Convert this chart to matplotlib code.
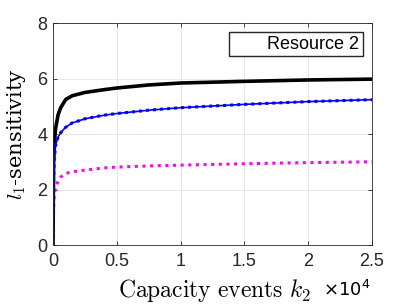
import matplotlib.pyplot as plt
import numpy as np
from matplotlib.lines import Line2D

plt.rcParams['mathtext.fontset'] = 'cm'
plt.rcParams['font.family'] = 'Liberation Sans'

# capacity events k2 and sensitivities
k2 = np.array([0, 20, 50, 100, 200, 400, 600, 1000, 1500, 2500, 4000,
               5000, 7500, 10000, 15000, 20000, 25000])
sens_black = np.array([0, 1.5, 3.0, 3.7, 4.2, 4.7, 4.95, 5.25, 5.38, 5.5, 5.6,
                       5.66, 5.77, 5.84, 5.9, 5.95, 5.98])
sens_blue = np.array([0, 1.2, 2.4, 3.1, 3.6, 3.9, 4.05, 4.25, 4.4, 4.55, 4.68,
                      4.74, 4.86, 4.95, 5.07, 5.17, 5.24])
sens_magenta = np.array([0, 0.8, 1.4, 1.8, 2.1, 2.3, 2.45, 2.58, 2.64, 2.7, 2.78,
                         2.81, 2.85, 2.88, 2.93, 2.97, 3.0])

xticks = [0, 5000, 10000, 15000, 20000, 25000]
xtick_labels = ['0', '0.5', '1', '1.5', '2', '2.5']
yticks = [0, 2, 4, 6, 8]

fig = plt.figure(figsize=(4.11, 3.08), dpi=100)
ax = fig.add_axes([0.129, 0.2045, 0.776, 0.7205])

ax.plot(k2, sens_magenta, color='magenta', lw=2.2, linestyle=(0, (1, 1.5)),
        dash_capstyle='butt')
ax.plot(k2, sens_black, color='black', lw=2.6)
ax.plot(k2, sens_blue, color='blue', lw=1.2)
ax.plot(k2, sens_blue, color='blue', lw=2.2, linestyle=(0, (1, 1.3)),
        dash_capstyle='butt')

ax.set_xlim(0, 25000)
ax.set_ylim(0, 8)
ax.set_xticks(xticks)
ax.set_xticklabels(xtick_labels)
ax.set_yticks(yticks)
ax.grid(True, color='#e6e6e6', lw=0.7)
ax.set_axisbelow(True)
ax.tick_params(direction='in', top=True, right=True, labelsize=13,
               colors='#262626', length=3, width=0.6)
ax.tick_params(axis='x', pad=6)
ax.tick_params(axis='y', pad=4)
for s in ax.spines.values():
    s.set_color('#262626')
    s.set_linewidth(0.6)

fig.text(0.04, 0.565, r'$l_1$-sensitivity', fontsize=15, family='serif',
         rotation=90, ha='center', va='center')
fig.text(0.522, 0.058, r'$\mathrm{Capacity\ events}\ k_2$', fontsize=17,
         ha='center', va='center')
fig.text(0.785, 0.057, r'$\times 10^4$', fontsize=13, ha='left', va='center',
         math_fontfamily='dejavusans')

ax.legend([Line2D([], [], color='none')], ['Resource 2'], loc='upper right',
          fontsize=13, fancybox=False, edgecolor='#262626', framealpha=1,
          handlelength=1.3, handletextpad=0.6, borderaxespad=0.5,
          borderpad=0.2)

fig.savefig('out.png', dpi=100)
